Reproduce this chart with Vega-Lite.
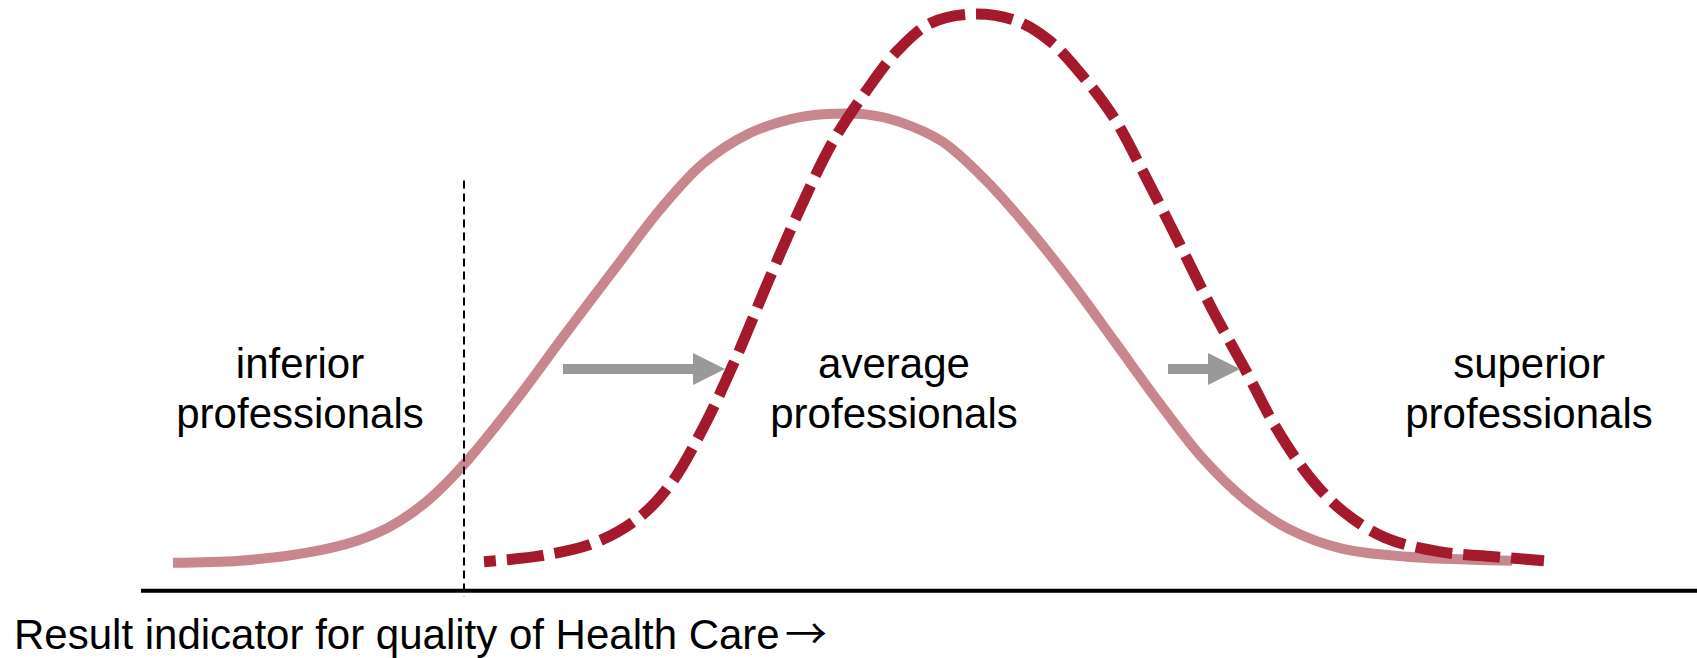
{
  "$schema": "https://vega.github.io/schema/vega-lite/v6.json",
  "width": 1697,
  "height": 658,
  "autosize": {"type": "none"},
  "padding": 0,
  "background": "white",
  "config": {"view": {"stroke": null}},
  "datasets": {
    "before": [
      {"quality": 17.3, "share": 2.8}, {"quality": 24.0, "share": 3.0}, {"quality": 30.7, "share": 3.8},
      {"quality": 35.7, "share": 5.0}, {"quality": 39.0, "share": 6.4}, {"quality": 42.3, "share": 8.6},
      {"quality": 44.5, "share": 10.6}, {"quality": 46.4, "share": 12.6}, {"quality": 49.0, "share": 15.7},
      {"quality": 52.3, "share": 19.9}, {"quality": 56.3, "share": 25.3}, {"quality": 61.7, "share": 32.4},
      {"quality": 66.0, "share": 38.0}, {"quality": 70.3, "share": 42.6}, {"quality": 74.7, "share": 45.5},
      {"quality": 79.0, "share": 47.0}, {"quality": 82.3, "share": 47.5}, {"quality": 86.6, "share": 47.5},
      {"quality": 89.8, "share": 46.8}, {"quality": 94.2, "share": 44.8}, {"quality": 98.5, "share": 41.0},
      {"quality": 102.8, "share": 36.2}, {"quality": 107.1, "share": 30.8}, {"quality": 111.5, "share": 24.8},
      {"quality": 115.8, "share": 18.9}, {"quality": 120.1, "share": 13.4}, {"quality": 124.5, "share": 9.1},
      {"quality": 128.8, "share": 6.2}, {"quality": 134.2, "share": 4.2}, {"quality": 140.7, "share": 3.4},
      {"quality": 147.2, "share": 3.1}, {"quality": 151.2, "share": 3.0}
    ],
    "after": [
      {"quality": 48.4, "share": 2.9}, {"quality": 54.1, "share": 3.5}, {"quality": 59.5, "share": 4.8},
      {"quality": 63.9, "share": 7.3}, {"quality": 67.1, "share": 10.7}, {"quality": 70.3, "share": 16.2},
      {"quality": 73.6, "share": 23.2}, {"quality": 76.8, "share": 30.8}, {"quality": 80.1, "share": 38.3},
      {"quality": 83.3, "share": 44.8}, {"quality": 86.6, "share": 49.8}, {"quality": 89.8, "share": 53.9},
      {"quality": 93.1, "share": 56.6}, {"quality": 97.4, "share": 57.5}, {"quality": 101.7, "share": 56.8},
      {"quality": 105.0, "share": 54.8}, {"quality": 108.2, "share": 51.4}, {"quality": 111.5, "share": 47.0},
      {"quality": 114.7, "share": 41.0}, {"quality": 118.0, "share": 34.5}, {"quality": 121.2, "share": 28.1},
      {"quality": 124.5, "share": 22.1}, {"quality": 127.7, "share": 16.1}, {"quality": 131.0, "share": 11.3},
      {"quality": 134.2, "share": 8.0}, {"quality": 138.5, "share": 5.3}, {"quality": 143.9, "share": 3.9},
      {"quality": 149.4, "share": 3.4}, {"quality": 154.4, "share": 3.0}
    ],
    "arrows": [
      {"start": 56.3, "end": 69.6, "head": 70.9, "level": 22.1},
      {"start": 116.8, "end": 121.0, "head": 122.4, "level": 22.1}
    ],
    "labels": [
      {"quality": 30.0, "share": 21.2, "label": "inferior\nprofessionals"},
      {"quality": 89.4, "share": 21.2, "label": "average\nprofessionals"},
      {"quality": 152.9, "share": 21.2, "label": "superior\nprofessionals"}
    ],
    "threshold": [{"quality": 46.4, "top": 40.9, "bottom": -0.6}],
    "baseline": [{"from": 14.1, "to": 169.7, "share": 0}],
    "axisTitle": [{"quality": 1.4, "share": -5.8, "label": "Result indicator for quality of Health Care"}],
    "axisArrow": [{"quality": 78.5, "share": -5.8, "label": "→"}]
  },
  "layer": [
    {
      "data": {"name": "before"},
      "mark": {"type": "line", "interpolate": "catmull-rom", "stroke": "#C8878E", "strokeWidth": 10, "strokeCap": "butt"},
      "encoding": {
        "x": {"field": "quality", "type": "quantitative", "scale": {"domain": [0, 169.7], "nice": false, "zero": false}, "axis": null},
        "y": {"field": "share", "type": "quantitative", "scale": {"domain": [-6.7, 58.9], "nice": false, "zero": false}, "axis": null}
      }
    },
    {
      "data": {"name": "after"},
      "mark": {"type": "line", "interpolate": "catmull-rom", "stroke": "#A5192D", "strokeWidth": 11, "strokeCap": "butt", "strokeDash": [37, 11], "strokeDashOffset": 25},
      "encoding": {
        "x": {"field": "quality", "type": "quantitative"},
        "y": {"field": "share", "type": "quantitative"}
      }
    },
    {
      "data": {"name": "threshold"},
      "mark": {"type": "rule", "stroke": "black", "strokeWidth": 2, "strokeDash": [8, 5]},
      "encoding": {
        "x": {"field": "quality", "type": "quantitative"},
        "y": {"field": "top", "type": "quantitative"},
        "y2": {"field": "bottom"}
      }
    },
    {
      "data": {"name": "baseline"},
      "mark": {"type": "rule", "stroke": "black", "strokeWidth": 4},
      "encoding": {
        "x": {"field": "from", "type": "quantitative"},
        "x2": {"field": "to"},
        "y": {"field": "share", "type": "quantitative"}
      }
    },
    {
      "data": {"name": "arrows"},
      "mark": {"type": "rule", "stroke": "#999999", "strokeWidth": 10},
      "encoding": {
        "x": {"field": "start", "type": "quantitative"},
        "x2": {"field": "end"},
        "y": {"field": "level", "type": "quantitative"}
      }
    },
    {
      "data": {"name": "arrows"},
      "mark": {"type": "point", "shape": "M-1,-1L1,0L-1,1Z", "filled": true, "fill": "#999999", "opacity": 1, "size": 1024, "strokeWidth": 0},
      "encoding": {
        "x": {"field": "head", "type": "quantitative"},
        "y": {"field": "level", "type": "quantitative"}
      }
    },
    {
      "data": {"name": "labels"},
      "mark": {"type": "text", "font": "Liberation Sans", "fontSize": 42, "color": "black", "align": "center", "baseline": "alphabetic", "lineBreak": "\n", "lineHeight": 50},
      "encoding": {
        "x": {"field": "quality", "type": "quantitative"},
        "y": {"field": "share", "type": "quantitative"},
        "text": {"field": "label", "type": "nominal"}
      }
    },
    {
      "data": {"name": "axisTitle"},
      "mark": {"type": "text", "font": "Liberation Sans", "fontSize": 42, "color": "black", "align": "left", "baseline": "alphabetic"},
      "encoding": {
        "x": {"field": "quality", "type": "quantitative"},
        "y": {"field": "share", "type": "quantitative"},
        "text": {"field": "label", "type": "nominal"}
      }
    },
    {
      "data": {"name": "axisArrow"},
      "mark": {"type": "text", "font": "Noto Sans CJK JP", "fontSize": 42, "color": "black", "align": "left", "baseline": "alphabetic"},
      "encoding": {
        "x": {"field": "quality", "type": "quantitative"},
        "y": {"field": "share", "type": "quantitative"},
        "text": {"field": "label", "type": "nominal"}
      }
    }
  ]
}
